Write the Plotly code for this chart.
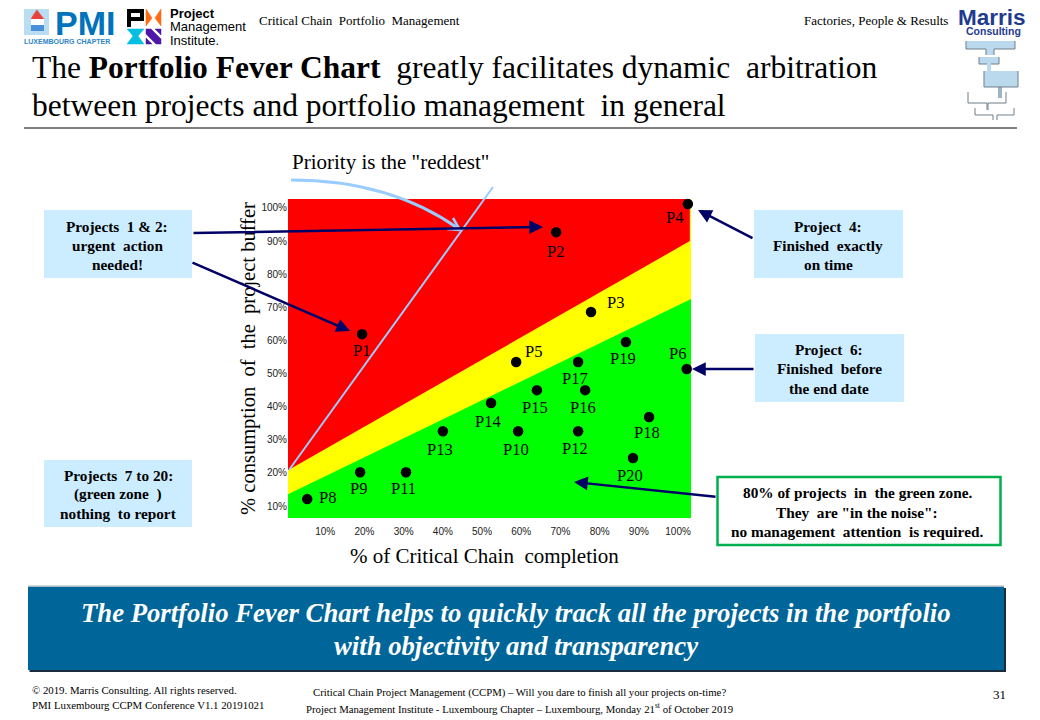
import plotly.graph_objects as go

# values
projects = ["P1", "P2", "P3", "P4", "P5", "P6", "P8", "P9", "P10", "P11",
            "P12", "P13", "P14", "P15", "P16", "P17", "P18", "P19", "P20"]
completion = [19.4, 68.9, 77.8, 102.5, 58.7, 102.2, 5.4, 18.9, 59.2, 30.6,
              74.5, 40.0, 52.3, 64.0, 76.3, 74.5, 92.6, 86.7, 88.5]
buffer_used = [61.9, 92.7, 68.6, 101.2, 53.5, 51.4, 12.1, 20.2, 32.6, 20.2,
               32.6, 32.6, 41.1, 45.0, 45.0, 53.5, 36.9, 59.5, 24.5]

tick_vals = [10, 20, 30, 40, 50, 60, 70, 80, 90, 100]
tick_text = ["10%", "20%", "30%", "40%", "50%", "60%", "70%", "80%", "90%", "100%"]

# zone limits, left and right end of each line
zone_x = [0.5, 103.3]
red_limit = [20.8, 90.0]
green_limit = [13.6, 72.5]
x_range = [0.5, 103.3]
y_range = [6.4, 102.7]

SERIF = "Liberation Serif"
SANS = "Liberation Sans"
W, H = 1040, 720

# where each project label sits relative to its dot, in pixels
label_shift = {"P1": (-1, 16), "P2": (-1, 19), "P3": (24, -9), "P4": (-13, 14), "P5": (17, -10),
               "P6": (-9, -15), "P8": (20, -2), "P9": (-2, 16), "P10": (-2, 18), "P11": (-3, 16),
               "P12": (-3, 17), "P13": (-3, 18), "P14": (-3, 18), "P15": (-2, 17), "P16": (-2, 17),
               "P17": (-3, 17), "P18": (-2, 16), "P19": (-3, 16), "P20": (-3, 17)}


def X(px):
    return px / W


def Y(py):
    return 1 - py / H


fig = go.Figure()

# zones
fig.add_trace(go.Scatter(x=[zone_x[0], zone_x[1], zone_x[1], zone_x[0]],
                         y=[y_range[0], y_range[0], y_range[1], y_range[1]],
                         fill="toself", fillcolor="#FFFF00", mode="none", hoverinfo="skip"))
fig.add_trace(go.Scatter(x=[zone_x[0], zone_x[1] - 0.3, zone_x[1] - 0.3, zone_x[0]],
                         y=[red_limit[0], red_limit[1], y_range[1], y_range[1]],
                         fill="toself", fillcolor="#FF0000", mode="none", hoverinfo="skip"))
fig.add_trace(go.Scatter(x=[zone_x[0], zone_x[1], zone_x[1], zone_x[0]],
                         y=[green_limit[0], green_limit[1], y_range[0], y_range[0]],
                         fill="toself", fillcolor="#00FF00", mode="none", hoverinfo="skip"))
fig.add_trace(go.Scatter(x=completion, y=buffer_used, mode="markers", text=projects, cliponaxis=False,
                         marker=dict(color="black", size=10.5)))

shapes = []
notes = []


def box(x0, y0, x1, y1, fill, line=None, width=0):
    shapes.append(dict(type="rect", xref="paper", yref="paper", x0=X(x0), x1=X(x1), y0=Y(y1), y1=Y(y0),
                       fillcolor=fill, line=dict(color=line or fill, width=width), layer="above"))


def path(points, color, width=1, fill=None):
    d = "M " + " L ".join(f"{X(a):.5f},{Y(b):.5f}" for a, b in points)
    if fill:
        d += " Z"
    shapes.append(dict(type="path", xref="paper", yref="paper", path=d, fillcolor=fill,
                       line=dict(color=color, width=width), layer="above"))


def note(px, py, text, size=15, color="black", anchor="center", family=SERIF):
    notes.append(dict(xref="paper", yref="paper", x=X(px), y=Y(py), text=text, showarrow=False,
                      xanchor=anchor, yanchor="middle", align=anchor, borderwidth=0, borderpad=0,
                      font=dict(family=family, size=size, color=color)))


def arrow(x0, y0, x1, y1, color="#000066", width=2.5):
    notes.append(dict(xref="paper", yref="paper", x=X(x1), y=Y(y1), ax=x0 - x1, ay=y0 - y1,
                      text="", showarrow=True, arrowhead=2, arrowsize=1.1,
                      arrowwidth=width, arrowcolor=color))


# project labels
for name, cx, cy in zip(projects, completion, buffer_used):
    dx, dy = label_shift[name]
    notes.append(dict(x=cx, y=cy, xref="x", yref="y", text=name, showarrow=False,
                      xshift=dx, yshift=-dy, font=dict(family=SERIF, size=16.5, color="black")))

# header
note(259, 20, "Critical Chain  Portfolio  Management", 13, anchor="left")
note(948, 20, "Factories, People & Results", 13, anchor="right")
note(32, 67, "The <b>Portfolio Fever Chart</b>  greatly facilitates dynamic  arbitration", 31.5, anchor="left")
note(32, 105, "between projects and portfolio management  in general", 31.5, anchor="left")
path([(24, 128), (1017, 128)], "black", 1)

# PMI Luxembourg logo
box(24, 9, 49, 35, "#BBDDF2")
path([(31, 19), (34, 14), (37, 10), (40, 14), (44, 19)], "#E8433A", 0.5, "#E8433A")
box(31, 19, 44, 25, "#FFFFFF")
box(31, 25, 44, 31, "#4A90D9")
note(85, 23, "<b>PMI</b>", 34, "#0073BC", family=SANS)
note(24, 41, "<b>LUXEMBOURG CHAPTER</b>", 7, "#2F86C6", anchor="left", family=SANS)

# PMI logo
box(127, 9, 144, 21, "#000000")
box(127, 21, 131, 27, "#000000")
box(131, 13, 140, 17, "#FFFFFF")
path([(146, 9), (152, 18), (146, 26)], "#FF6A13", 0.5, "#FF6A13")
path([(161, 9), (155, 18), (161, 26)], "#FF6A13", 0.5, "#FF6A13")
path([(127, 29), (144, 29), (138, 36), (144, 44), (127, 44), (133, 36)], "#05BFE0", 0.5, "#05BFE0")
path([(146, 29), (151, 29), (161, 39), (161, 44), (156, 44), (146, 34)], "#4F17A8", 0.5, "#4F17A8")
path([(155, 29), (161, 29), (161, 35)], "#4F17A8", 0.5, "#4F17A8")
path([(146, 38), (152, 44), (146, 44)], "#4F17A8", 0.5, "#4F17A8")
note(170, 13, "<b>Project</b>", 13, anchor="left", family=SANS)
note(170, 27, "Management", 13, anchor="left", family=SANS)
note(170, 40, "Institute.", 13, anchor="left", family=SANS)

# Marris logo
note(991.5, 17, "<b>Marris</b>", 22.5, "#1F3B8F", family=SANS)
note(993, 31, "<b>Consulting</b>", 10.5, "#1F3B8F", family=SANS)
box(966, 41, 1015, 49, "#BBD9EC")
box(986, 49, 994, 55, "#BBD9EC")
box(979, 57, 999, 64, "#BBD9EC")
box(987, 64, 991, 71, "#BBD9EC")
box(984, 71, 1018, 87, "#BBD9EC")
box(998, 87, 1002, 98, "#9FB4C2")
for seg in [[(966, 41), (966, 49), (986, 49), (986, 55)], [(1015, 41), (1015, 49), (994, 49), (994, 55)],
            [(979, 57), (979, 64), (987, 64)], [(999, 57), (999, 64), (991, 64)],
            [(984, 71), (984, 87), (1018, 87), (1018, 71)],
            [(968, 92), (968, 103), (987, 103), (987, 110)], [(1006, 92), (1006, 103), (988, 103), (988, 110)],
            [(975, 108), (975, 115), (993, 115), (993, 120)], [(1014, 108), (1014, 115), (997, 115), (997, 120)]]:
    path(seg, "#6F7F8A", 1)

# call-outs
BOX_BLUE = "#CCECFF"
box(44, 210, 192, 278, BOX_BLUE)
note(117, 226, "<b>Projects  1 & 2:</b>", 15.3)
note(117, 245, "<b>urgent  action</b>", 15.3)
note(117, 264, "<b>needed!</b>", 15.3)
box(754, 210, 903, 278, BOX_BLUE)
note(828, 226, "<b>Project  4:</b>", 15.3)
note(828, 245, "<b>Finished  exactly</b>", 15.3)
note(828, 264, "<b>on time</b>", 15.3)
box(755, 334, 904, 402, BOX_BLUE)
note(829, 349, "<b>Project  6:</b>", 15.3)
note(829, 369, "<b>Finished  before</b>", 15.3)
note(829, 388, "<b>the end date</b>", 15.3)
box(44, 460, 192, 527, BOX_BLUE)
note(118, 475, "<b>Projects  7 to 20:</b>", 15.3)
note(118, 494, "<b>(green zone  )</b>", 15.3)
note(118, 513, "<b>nothing  to report</b>", 15.3)
box(717.5, 477, 1000.5, 545, "#FFFFFF", "#00B050", 2.5)
note(857, 492, "<b>80% of projects  in  the green zone.</b>", 15.3)
note(857, 512, "<b>They  are \"in the noise\":</b>", 15.3)
note(857, 531, "<b>no management  attention  is required.</b>", 15.3)

note(292, 162, "Priority is the \"reddest\"", 21, anchor="left")
note(484, 556, "% of Critical Chain  completion", 21)

# arrows from the call-outs
arrow(192, 233, 543, 227)
arrow(191, 262, 350, 331)
arrow(754, 239, 698, 210)
arrow(755, 369, 692, 369)
arrow(717, 497, 574, 482)

# light blue sight line and curved pointer
path([(289, 470), (493, 187)], "#99CCFF", 2)
shapes.append(dict(type="path", xref="paper", yref="paper",
                   path=f"M {X(291)},{Y(180)} Q {X(390)},{Y(180)} {X(459)},{Y(229)}",
                   line=dict(color="#99CCFF", width=3), layer="above"))
path([(447, 229), (460, 230), (453, 218)], "#99CCFF", 2.5)

# banner
box(28, 585.5, 1004, 588, "#AAB8C4")
box(29.5, 588, 1006, 672, "#1A2B3C")
box(28, 587, 1004, 670, "#006699")
note(516, 613, "<b><i>The Portfolio Fever Chart helps to quickly track all the projects in the portfolio</i></b>", 26.7, "white")
note(516, 646, "<b><i>with objectivity and transparency</i></b>", 26.7, "white")

# footer
note(32, 690, "© 2019. Marris Consulting. All rights reserved.", 10.8, anchor="left")
note(32, 705, "PMI Luxembourg CCPM Conference V1.1 20191021", 10.8, anchor="left")
note(519.5, 692, "Critical Chain Project Management (CCPM) – Will you dare to finish all your projects on-time?", 10.75)
note(519.5, 708, "Project Management Institute - Luxembourg Chapter – Luxembourg, Monday 21<sup>st</sup> of October 2019", 10.75)
note(1006, 694, "31", 13, anchor="right")

fig.update_layout(
    width=W, height=H, showlegend=False,
    margin=dict(l=0, r=0, t=0, b=0),
    paper_bgcolor="white", plot_bgcolor="white",
    shapes=shapes, annotations=notes,
    xaxis=dict(domain=[X(288), X(691)], range=x_range, tickvals=tick_vals, ticktext=tick_text,
               showgrid=False, zeroline=False, showline=False,
               ticks="outside", ticklen=4, tickcolor="rgba(0,0,0,0)",
               tickfont=dict(family=SANS, size=10, color="#222222")),
    yaxis=dict(domain=[Y(518), Y(199)], range=y_range, tickvals=tick_vals, ticktext=tick_text,
               showgrid=False, zeroline=False, showline=False,
               ticks="", tickfont=dict(family=SANS, size=10, color="#222222"),
               title=dict(text="% consumption  of  the  project buffer", standoff=0,
                          font=dict(family=SERIF, size=20.5, color="black"))),
)

fig.write_html("out.html", config={"displayModeBar": False},
               post_script="document.body.style.margin='0';")
